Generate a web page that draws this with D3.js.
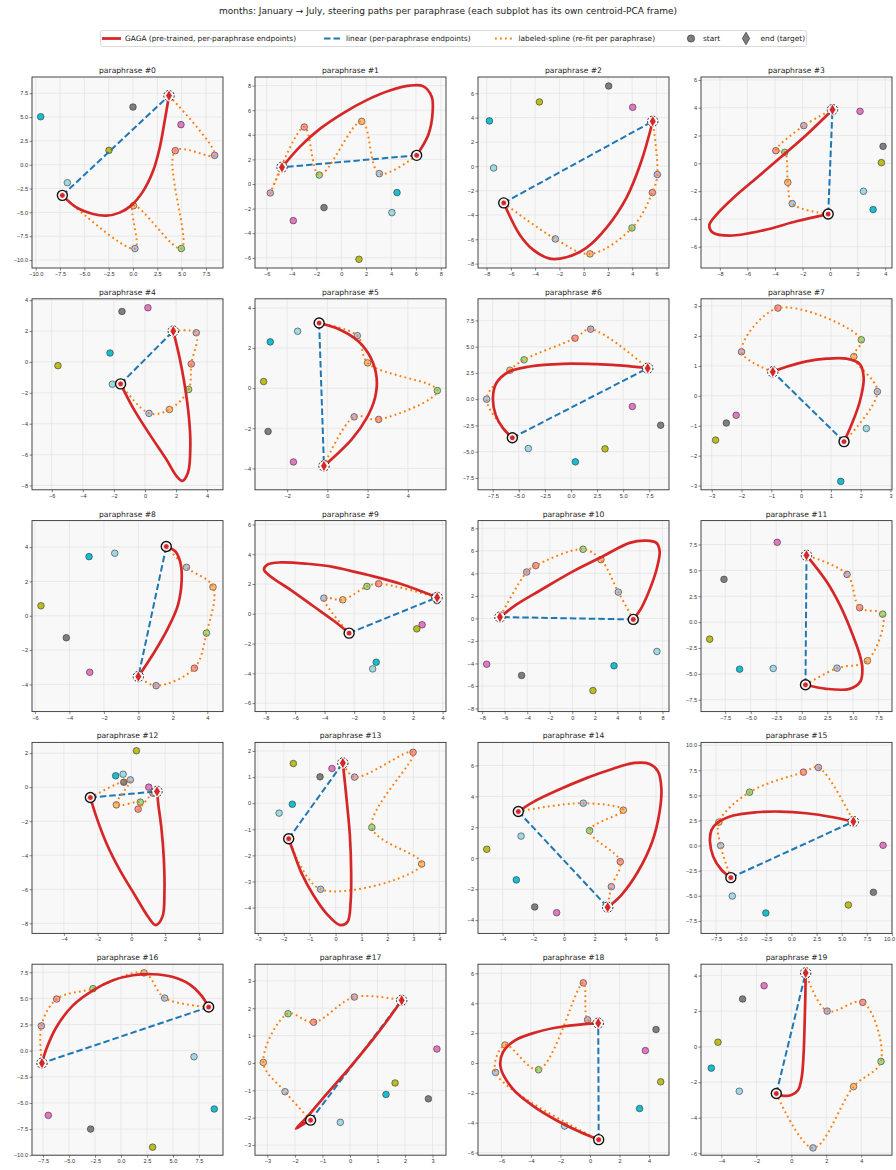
<!DOCTYPE html>
<html lang="en">
<head>
<meta charset="UTF-8">
<title>Steering paths per paraphrase</title>
<script src="https://d3js.org/d3.v7.min.js"></script>
<style>
  body { margin: 0; background: #fff; }
  svg { font-family: "DejaVu Sans", sans-serif; }
  .tick text { font-size: 5.6px; fill: #333; }
  .tick line { stroke: #333; stroke-width: 0.6; }
</style>
</head>
<body>
<script>
// month order: Jan (start) .. Jul (end) are on the path, Aug..Dec are distractors
const monthNames = ["January","February","March","April","May","June","July","August","September","October","November","December"];
const monthColors = ["#1f77b4","#aec7e8","#ffbb78","#98df8a","#ff9896","#c5b0d5","#8c564b","#e377c2","#7f7f7f","#bcbd22","#17becf","#9edae5"];

const xLims = [[-10.38,9.25],[-6.94,8.42],[-8.71,7.03],[-9.37,4.49],[-7.27,5.02],[-3.6,5.9],[-8.91,9.39],[-3.36,3.05],[-6.17,4.91],[-8.72,4.23],
               [-8.37,8.58],[-9.87,8.83],[-5.89,5.43],[-3.11,4.26],[-5.61,6.85],[-9.0,10.0],[-8.56,9.81],[-3.45,3.49],[-7.58,5.35],[-5.17,5.76]];
const yLims = [[-10.84,9.2],[-6.83,8.7],[-8.36,7.34],[-7.53,6.21],[-8.28,4.09],[-5.07,4.46],[-8.63,9.56],[-3.14,3.24],[-5.58,5.54],[-6.57,6.26],
               [-8.28,8.69],[-8.65,9.81],[-8.59,2.63],[-4.99,2.33],[-4.86,7.49],[-8.74,10.27],[-10.0,8.27],[-3.37,3.61],[-6.17,6.61],[-6.11,4.64]];
const tickSteps = [2.5,2,2,2,2,2,2.5,1,2,2,2,2.5,2,1,2,2.5,2.5,1,2,2];

// 12 months per paraphrase, [x, y] in the subplot's PCA frame
const monthXY = [
  [[-7.26,-3.22],[0.2,-8.8],[0.05,-4.3],[4.97,-8.8],[4.35,1.47],[8.39,0.98],[3.7,7.24],[4.93,4.2],[0,6.05],[-2.47,1.5],[-9.49,5.03],[-6.75,-1.89]],
  [[6.06,2.33],[3.06,0.84],[1.64,5.09],[-1.77,0.73],[-2.98,4.63],[-5.71,-0.73],[-4.77,1.36],[-3.86,-2.98],[-1.39,-1.92],[1.42,-6.12],[4.48,-0.7],[4.07,-2.33]],
  [[-6.59,-3.01],[-2.34,-5.97],[0.52,-7.2],[3.98,-5.07],[5.66,-2.16],[6.07,-0.68],[5.69,3.7],[4.04,4.85],[2.06,6.6],[-3.65,5.29],[-7.77,3.73],[-7.42,-0.14]],
  [[-0.14,-3.65],[-2.75,-2.9],[-3.07,-1.37],[-3.29,0.79],[-3.94,0.91],[-1.91,2.71],[0.17,3.86],[2.17,3.74],[3.84,1.22],[3.72,0.05],[3.12,-3.33],[2.42,-2.01]],
  [[-1.57,-1.42],[0.26,-3.33],[1.57,-3.08],[2.81,-1.78],[2.98,-0.13],[3.3,1.89],[1.82,2.0],[0.19,3.51],[-1.48,3.27],[-5.6,-0.24],[-2.25,0.58],[-2.1,-1.44]],
  [[-0.41,3.25],[1.49,2.62],[2.0,1.26],[5.47,-0.12],[2.55,-1.56],[1.33,-1.43],[-0.17,-3.88],[-1.69,-3.68],[-2.95,-2.16],[-3.17,0.33],[-2.84,2.31],[-1.48,2.84]],
  [[-5.62,-3.68],[-8.08,0],[-5.85,2.76],[-4.5,3.75],[0.38,5.81],[1.88,6.67],[7.35,2.95],[5.88,-0.7],[8.59,-2.48],[3.26,-4.73],[0.42,-5.97],[-4.09,-4.7]],
  [[1.44,-1.53],[2.56,0.14],[1.77,1.31],[2.02,1.87],[-0.78,2.93],[-2.0,1.47],[-0.95,0.8],[-2.18,-0.65],[-2.51,-0.91],[-2.87,-1.48],[1.33,-2.86],[2.19,-1.09]],
  [[1.62,4.03],[2.79,2.82],[4.33,1.67],[3.95,-1.01],[3.25,-3.05],[1.03,-4.07],[0,-3.54],[-2.82,-3.29],[-4.18,-1.28],[-5.65,0.58],[-2.86,3.44],[-1.37,3.64]],
  [[-2.34,-1.3],[-4.05,1.05],[-2.77,0.94],[-1.13,1.84],[-0.34,2.02],[3.45,1.15],[3.63,1.1],[2.61,-0.74],[3.62,0.88],[2.25,-1.01],[-0.5,-3.25],[-0.74,-3.7]],
  [[5.41,-0.09],[4.08,2.34],[2.54,5.22],[0.95,6.14],[-3.25,4.69],[-4.05,4.12],[-6.42,0.12],[-7.6,-4.07],[-4.5,-5.07],[1.83,-6.41],[3.7,-4.21],[7.51,-2.94]],
  [[0.36,-6.06],[3.45,-4.45],[6.42,-3.74],[7.92,0.77],[5.67,1.39],[4.43,4.61],[0.46,6.45],[-2.41,7.71],[-7.62,4.13],[-9.02,-1.65],[-6.09,-4.55],[-2.8,-4.48]],
  [[-2.43,-0.61],[-0.06,0.43],[-0.89,-1.04],[0.53,-0.88],[0.4,-1.29],[1.28,-0.35],[1.52,-0.25],[1.03,0],[-0.45,0.29],[0.3,2.14],[-0.93,0.67],[-0.49,0.76]],
  [[-1.81,-1.36],[-0.58,-3.3],[3.32,-2.33],[1.4,-0.93],[2.99,1.95],[0.73,1.0],[0.28,1.54],[-0.14,1.33],[-0.6,1.01],[-1.63,1.52],[-1.67,-0.04],[-2.18,-0.38]],
  [[-2.98,3.02],[1.26,3.56],[3.87,3.11],[1.67,1.79],[3.67,-0.22],[3.09,-1.84],[2.85,-3.17],[-0.48,-3.52],[-1.91,-3.15],[-5.04,0.58],[-3.11,-1.4],[-2.8,1.43]],
  [[-6.03,-3.19],[-7.05,0],[-7.22,2.33],[-4.17,5.32],[1.19,7.31],[2.68,7.77],[6.16,2.39],[9.11,0.03],[8.15,-4.65],[5.66,-5.91],[-2.55,-6.71],[-5.89,-5.02]],
  [[8.43,4.17],[4.2,5.03],[2.21,7.44],[-2.69,5.93],[-6.19,4.94],[-7.66,2.37],[-7.6,-1.19],[-6.99,-6.19],[-2.92,-7.5],[3.04,-9.23],[8.97,-5.58],[7.02,-0.58]],
  [[-1.43,-2.09],[-2.36,-1.05],[-3.15,0.02],[-2.25,1.8],[-1.32,1.49],[0.16,2.41],[1.88,2.29],[3.16,0.51],[2.85,-1.31],[1.64,-0.73],[1.31,-1.15],[-0.35,-2.17]],
  [[0.59,-5.13],[-6.39,-0.63],[-5.75,1.2],[-3.48,-0.45],[-0.45,5.36],[-0.16,2.89],[0.56,2.67],[3.75,0.83],[4.47,2.24],[4.79,-1.26],[3.36,-3.05],[-1.72,-4.22]],
  [[-0.86,-2.64],[1.24,-5.7],[3.56,-2.25],[5.13,-0.83],[4.09,2.49],[2.05,2.0],[0.82,4.15],[-1.56,3.43],[-2.79,2.68],[-4.2,0.25],[-4.58,-1.21],[-2.98,-2.51]]
];

// GAGA path: points read along the red curve between start (Jan) and end (Jul)
const gagaMid = [
  [[-5.82,-4.48],[-4.11,-5.17],[-2.74,-5.35],[-1.37,-5.03],[-0.17,-4.27],[1.03,-2.8],[2.05,-0.7],[2.74,1.75],[3.25,4.55]],
  [[7.0,4.0],[7.35,5.9],[7.27,7.1],[6.6,7.94],[5.5,8.0],[3.9,7.6],[2.0,6.8],[0.16,5.77],[-1.7,4.5],[-3.3,3.06]],
  [[-5.27,-5.62],[-4.18,-6.85],[-2.8,-7.59],[-1.43,-7.48],[0.22,-6.71],[1.87,-5.07],[3.52,-2.6],[4.75,0.41]],
  [[-2.44,-4.17],[-4.86,-4.82],[-7.27,-5.2],[-8.48,-5.01],[-8.77,-4.46],[-8.24,-3.69],[-7.03,-2.49],[-5.34,-1.06],[-3.65,0.38],[-1.71,2.06]],
  [[-0.77,-2.97],[0.3,-4.69],[1.37,-6.3],[2.02,-7.38],[2.4,-7.7],[2.77,-7.16],[2.92,-5.33],[2.83,-3.61],[2.55,-1.46],[2.23,0.26]],
  [[0.63,2.92],[1.54,2.34],[2.16,1.51],[2.45,0.51],[2.37,-0.48],[1.96,-1.48],[1.21,-2.55]],
  [[-6.52,-2.76],[-7.22,-1.49],[-7.48,0.1],[-7.16,1.52],[-6.04,2.57],[-3.96,3.11],[-0.77,3.37],[2.43,3.33],[5.3,3.17]],
  [[1.69,-0.97],[1.97,-0.19],[2.1,0.59],[1.97,1.06],[1.52,1.24],[0.85,1.24],[0.18,1.15],[-0.49,0.97]],
  [[2.17,3.72],[2.46,2.98],[2.51,2.0],[2.3,0.64],[1.72,-0.72],[0.95,-2.08]],
  [[-3.38,-0.47],[-4.73,0.49],[-6.31,1.61],[-7.66,2.51],[-8.11,2.96],[-7.88,3.3],[-6.98,3.45],[-5.18,3.36],[-3.38,3.14],[-1.13,2.62],[1.13,2.02]],
  [[6.12,0.92],[6.92,2.7],[7.51,4.48],[7.75,5.96],[7.46,6.71],[6.57,6.91],[5.09,6.71],[2.72,5.52],[0.06,4.18],[-2.9,2.46],[-4.97,1.22]],
  [[2.41,-6.45],[4.69,-6.45],[5.73,-5.74],[5.93,-4.45],[5.67,-3.16],[4.85,-0.9],[3.71,1.68],[2.41,3.94]],
  [[-2.08,-1.73],[-1.48,-3.29],[-0.69,-4.86],[0.2,-6.33],[0.99,-7.61],[1.44,-8.1],[1.84,-7.61],[1.96,-6.14],[1.92,-4.18],[1.78,-2.41],[1.6,-1.04]],
  [[-1.63,-1.86],[-1.31,-2.69],[-0.86,-3.52],[-0.35,-4.23],[0.17,-4.67],[0.46,-4.55],[0.58,-3.78],[0.6,-2.62],[0.55,-1.22],[0.42,0.19]],
  [[-2.02,3.63],[-0.5,4.36],[1.46,5.18],[3.2,5.79],[4.61,6.16],[5.59,6.09],[6.13,5.62],[6.35,4.54],[6.24,3.02],[5.76,1.08],[4.83,-0.86],[3.74,-2.38]],
  [[-6.95,-2.43],[-7.78,-1.1],[-8.11,0.4],[-7.95,1.56],[-7.28,2.33],[-5.79,2.99],[-3.48,3.32],[-1.16,3.39],[1.49,3.22],[4.14,2.82]],
  [[7.72,5.29],[6.6,6.35],[5.0,7.05],[3.08,7.31],[1.15,7.21],[-0.77,6.73],[-2.69,5.77],[-4.62,4.33],[-6.22,2.24],[-7.18,0.16]],
  [[-1.7,-2.24],[-1.96,-2.4],[-1.58,-2.0],[-0.85,-1.14],[0,-0.16],[0.85,0.88],[1.45,1.68]],
  [[-0.7,-4.6],[-2.28,-3.83],[-3.86,-2.87],[-5.21,-1.75],[-6.05,-0.29],[-5.89,0.72],[-5.1,1.5],[-3.63,2.06],[-1.83,2.44]],
  [[-0.44,-2.77],[0,-2.72],[0.38,-2.45],[0.59,-1.74],[0.7,-0.42],[0.76,1.28],[0.8,2.79]]
];

const RED = "#d62728", BLUE = "#1f77b4", ORANGE = "#ff7f0e";
const W = 896, H = 1170;
const size = 191;
const colLeft = c => 32 + c * 223;
const rowTop = r => 77 + r * 221.8;

const svg = d3.select("body").append("svg")
    .attr("width", W).attr("height", H);

svg.append("text")
    .attr("x", W / 2).attr("y", 13.5)
    .attr("text-anchor", "middle")
    .style("font-size", "9px").style("fill", "#222")
    .text("months: January \u2192 July, steering paths per paraphrase (each subplot has its own centroid-PCA frame)");

// legend
let lg = svg.append("g");
lg.append("rect").attr("x", 100.5).attr("y", 30.5).attr("width", 706).attr("height", 16)
    .attr("rx", 2).attr("fill", "#fff").attr("stroke", "#d0d0d0").attr("stroke-width", 0.8);
const ly = 38.5;
lg.append("line").attr("x1", 102).attr("x2", 121).attr("y1", ly).attr("y2", ly)
    .attr("stroke", RED).attr("stroke-width", 2.8);
lg.append("line").attr("x1", 324).attr("x2", 342).attr("y1", ly).attr("y2", ly)
    .attr("stroke", BLUE).attr("stroke-width", 2).attr("stroke-dasharray", "6.5,3");
lg.append("line").attr("x1", 495).attr("x2", 513).attr("y1", ly).attr("y2", ly)
    .attr("stroke", ORANGE).attr("stroke-width", 2).attr("stroke-dasharray", "1.8,3.2");
lg.append("circle").attr("cx", 691).attr("cy", ly).attr("r", 3.6)
    .attr("fill", "#7f7f7f").attr("stroke", "#333").attr("stroke-width", 0.7);
lg.append("path").attr("d", d3.symbol(d3.symbolDiamond, 46)())
    .attr("transform", `translate(746,${ly})`)
    .attr("fill", "#7f7f7f").attr("stroke", "#333").attr("stroke-width", 0.7);
const legendText = [[125, "GAGA (pre-trained, per-paraphrase endpoints)"], [346, "linear (per-paraphrase endpoints)"],
                    [518.5, "labeled-spline (re-fit per paraphrase)"], [703, "start"], [760.5, "end (target)"]];
legendText.forEach(([tx, t]) => {
    lg.append("text").attr("x", tx).attr("y", ly + 2.6)
        .style("font-size", "7.4px").style("fill", "#222").text(t);
});

function tickList(lim, step) {
    let out = [];
    for (let k = Math.ceil(lim[0] / step - 1e-9); k * step <= lim[1] + 1e-9; k++) out.push(+(k * step).toFixed(2));
    return out;
}

d3.range(20).forEach(i => {
    const r = Math.floor(i / 4), c = i % 4;
    const left = colLeft(c), top = rowTop(r);
    const x = d3.scaleLinear().domain(xLims[i]).range([left, left + size]);
    const y = d3.scaleLinear().domain(yLims[i]).range([top + size, top]);
    const step = tickSteps[i];
    const fmt = step === 2.5 ? d3.format(".1f") : d3.format("d");
    const xt = tickList(xLims[i], step), yt = tickList(yLims[i], step);

    let g = svg.append("g");
    g.append("rect").attr("x", left).attr("y", top).attr("width", size).attr("height", size)
        .attr("fill", "#f8f8f8");

    // grid
    g.selectAll(".gx").data(xt).join("line")
        .attr("x1", d => x(d)).attr("x2", d => x(d)).attr("y1", top).attr("y2", top + size)
        .attr("stroke", "#e2e2e2").attr("stroke-width", 0.7);
    g.selectAll(".gy").data(yt).join("line")
        .attr("y1", d => y(d)).attr("y2", d => y(d)).attr("x1", left).attr("x2", left + size)
        .attr("stroke", "#e2e2e2").attr("stroke-width", 0.7);

    const pts = monthXY[i];
    const path = pts.slice(0, 7);

    // month points
    g.selectAll(".pt").data(pts).join("circle")
        .attr("cx", d => x(d[0])).attr("cy", d => y(d[1])).attr("r", 3.3)
        .attr("fill", (d, k) => monthColors[k])
        .attr("stroke", "#333").attr("stroke-width", 0.6);

    const line = d3.line().x(d => x(d[0])).y(d => y(d[1]));

    // linear
    g.append("path").attr("d", line([path[0], path[6]]))
        .attr("fill", "none").attr("stroke", BLUE).attr("stroke-width", 2)
        .attr("stroke-dasharray", "6.5,3");

    // labeled spline
    g.append("path").attr("d", line.curve(d3.curveCatmullRom.alpha(0.5))(path))
        .attr("fill", "none").attr("stroke", ORANGE).attr("stroke-width", 2)
        .attr("stroke-dasharray", "1.8,3.2");

    // GAGA
    g.append("path").attr("d", line.curve(d3.curveCatmullRom.alpha(0.5))([path[0], ...gagaMid[i], path[6]]))
        .attr("fill", "none").attr("stroke", RED).attr("stroke-width", 2.7)
        .attr("stroke-linecap", "round").attr("stroke-linejoin", "round");

    // start marker
    g.append("circle").attr("cx", x(path[0][0])).attr("cy", y(path[0][1])).attr("r", 5)
        .attr("fill", "#fff").attr("stroke", "#111").attr("stroke-width", 1.4);
    g.append("circle").attr("cx", x(path[0][0])).attr("cy", y(path[0][1])).attr("r", 2.9)
        .attr("fill", RED).attr("stroke", "#fff").attr("stroke-width", 0.8);

    // end marker
    g.append("circle").attr("cx", x(path[6][0])).attr("cy", y(path[6][1])).attr("r", 5.2)
        .attr("fill", "#fff").attr("stroke", "#111").attr("stroke-width", 0.9)
        .attr("stroke-dasharray", "2,1.5");
    g.append("path").attr("d", d3.symbol(d3.symbolDiamond, 40)())
        .attr("transform", `translate(${x(path[6][0])},${y(path[6][1])})`)
        .attr("fill", RED).attr("stroke", "#fff").attr("stroke-width", 0.8);

    // axes
    g.append("g").attr("transform", `translate(0,${top + size})`)
        .call(d3.axisBottom(x).tickValues(xt).tickFormat(fmt).tickSize(2.5).tickPadding(1.5))
        .call(a => a.select(".domain").remove())
        .call(a => a.selectAll("text").each(function () {
            const b = this.getBBox(), t = d3.select(this.parentNode).attr("transform");
            const tx = +t.match(/translate\(([-\d.]+)/)[1];
            const over = tx + b.x + b.width - (W - 1);
            if (over > 0) d3.select(this).attr("dx", -over);
        }));
    g.append("g").attr("transform", `translate(${left},0)`)
        .call(d3.axisLeft(y).tickValues(yt).tickFormat(fmt).tickSize(2.5).tickPadding(1.5))
        .call(a => a.select(".domain").remove());
    g.append("rect").attr("x", left).attr("y", top).attr("width", size).attr("height", size)
        .attr("fill", "none").attr("stroke", "#333").attr("stroke-width", 0.9);

    g.append("text").attr("x", left + size / 2).attr("y", top - 4)
        .attr("text-anchor", "middle").style("font-size", "7.6px").style("fill", "#222")
        .text("paraphrase #" + i);
});
</script>
</body>
</html>
